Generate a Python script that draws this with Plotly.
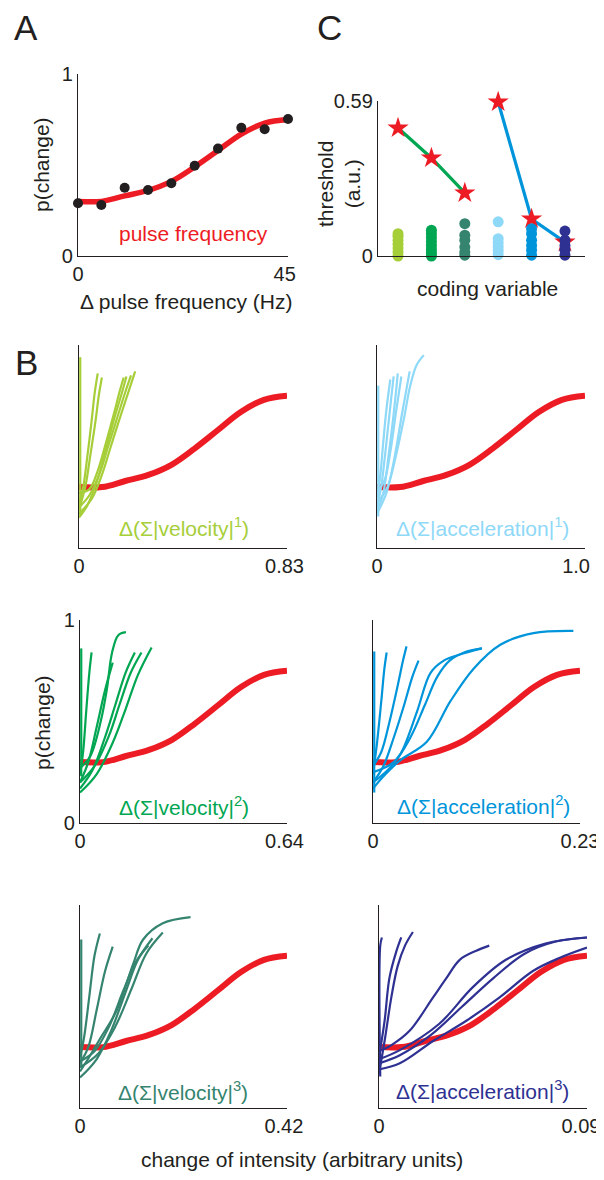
import plotly.graph_objects as go

# The page body has an 8px margin, so the figure is drawn 8px in from the window edge.
PAGE_OFF = 8
WIN_W, WIN_H = 604, 1180
W, H = WIN_W - PAGE_OFF, WIN_H - 2 * PAGE_OFF
FONT = "Liberation Sans, Arial, sans-serif"
INK = "#231f20"
RED = "#ed1c24"

# ---------------- Panel A data ----------------
pulse_hz = [0, 5, 10, 15, 20, 25, 30, 35, 40, 45]
p_observed = [0.29, 0.28, 0.375, 0.363, 0.40, 0.496, 0.59, 0.705, 0.696, 0.753]
p_fit = [0.30, 0.30, 0.33, 0.36, 0.41, 0.49, 0.58, 0.67, 0.73, 0.75]

# ---------------- Panel C data ----------------
coding_vars = [1, 2, 3, 4, 5, 6]
coding_colors = ["#a6ce39", "#00a651", "#35846f", "#8ed8f8", "#0095da", "#2e3192"]
velocity_cats = [1, 2, 3]
velocity_thresholds = [0.487, 0.373, 0.240]
accel_cats = [4, 5, 6]
accel_thresholds = [0.586, 0.141, 0.053]
dots_vel1 = [0.0, 0.015, 0.03, 0.045, 0.06, 0.075, 0.085]
dots_vel2 = [0.0, 0.012, 0.025, 0.04, 0.055, 0.07, 0.085, 0.098]
dots_vel3 = [0.003, 0.015, 0.034, 0.06, 0.079, 0.123]
dots_acc1 = [0.005, 0.02, 0.035, 0.05, 0.066, 0.13]
dots_acc2 = [0.003, 0.022, 0.04, 0.06, 0.085, 0.104]
dots_acc3 = [0.003, 0.022, 0.04, 0.06, 0.095]
individual_thresholds = [dots_vel1, dots_vel2, dots_vel3, dots_acc1, dots_acc2, dots_acc3]

# ---------------- Panel B data (x as fraction of axis max) ----------------
b_xmax = [0.83, 1.0, 0.64, 0.23, 0.42, 0.09]
b_xmax_text = ["0.83", "1.0", "0.64", "0.23", "0.42", "0.09"]
b_labels = ["Δ(Σ|velocity|<sup>1</sup>)", "Δ(Σ|acceleration|<sup>1</sup>)",
            "Δ(Σ|velocity|<sup>2</sup>)", "Δ(Σ|acceleration|<sup>2</sup>)",
            "Δ(Σ|velocity|<sup>3</sup>)", "Δ(Σ|acceleration|<sup>3</sup>)"]
b_colors = ["#a6ce39", "#8ed8f8", "#00a651", "#0095da", "#35846f", "#2e3192"]

vel1_x = [[0.006, 0.006],
          [0, 0.02, 0.04, 0.06, 0.075, 0.09],
          [0, 0.03, 0.055, 0.08, 0.095, 0.11],
          [0, 0.05, 0.09, 0.13, 0.17, 0.195, 0.215],
          [0, 0.04, 0.09, 0.13, 0.17, 0.205, 0.228],
          [0, 0.05, 0.10, 0.14, 0.18, 0.22, 0.25],
          [0, 0.06, 0.11, 0.15, 0.19, 0.235, 0.27]]
vel1_p = [[0.16, 0.94],
          [0.22, 0.30, 0.45, 0.62, 0.76, 0.86],
          [0.19, 0.30, 0.46, 0.63, 0.75, 0.84],
          [0.27, 0.29, 0.38, 0.52, 0.67, 0.77, 0.84],
          [0.15, 0.21, 0.34, 0.49, 0.64, 0.76, 0.845],
          [0.20, 0.26, 0.37, 0.50, 0.63, 0.76, 0.85],
          [0.17, 0.24, 0.36, 0.49, 0.62, 0.76, 0.87]]

acc1_x = [[0.006, 0.006],
          [0, 0.015, 0.03, 0.045, 0.064],
          [0, 0.02, 0.04, 0.06, 0.08],
          [0, 0.03, 0.055, 0.08, 0.10],
          [0, 0.035, 0.065, 0.09, 0.117],
          [0, 0.045, 0.085, 0.12, 0.157],
          [0, 0.05, 0.09, 0.13, 0.16, 0.19, 0.225]]
acc1_p = [[0.155, 0.80],
          [0.25, 0.35, 0.52, 0.68, 0.83],
          [0.20, 0.30, 0.47, 0.66, 0.845],
          [0.18, 0.27, 0.45, 0.66, 0.86],
          [0.28, 0.33, 0.48, 0.66, 0.845],
          [0.17, 0.27, 0.45, 0.66, 0.87],
          [0.22, 0.30, 0.45, 0.64, 0.80, 0.90, 0.95]]

vel2_x = [[0.006, 0.006],
          [0, 0.015, 0.03, 0.045, 0.056],
          [0, 0.04, 0.08, 0.12, 0.158],
          [0, 0.05, 0.10, 0.13, 0.155, 0.185, 0.222],
          [0, 0.06, 0.12, 0.17, 0.22, 0.265],
          [0, 0.07, 0.14, 0.19, 0.245, 0.297],
          [0, 0.08, 0.16, 0.22, 0.28, 0.346]]
vel2_p = [[0.23, 0.86],
          [0.24, 0.35, 0.55, 0.74, 0.84],
          [0.20, 0.30, 0.47, 0.65, 0.79],
          [0.27, 0.33, 0.50, 0.66, 0.84, 0.925, 0.94],
          [0.17, 0.26, 0.42, 0.58, 0.74, 0.84],
          [0.20, 0.28, 0.43, 0.58, 0.74, 0.84],
          [0.15, 0.24, 0.40, 0.56, 0.73, 0.865]]

acc2_x = [[0.006, 0.006],
          [0, 0.02, 0.04, 0.055, 0.066],
          [0, 0.04, 0.08, 0.12, 0.145, 0.162],
          [0, 0.05, 0.10, 0.15, 0.19, 0.22],
          [0, 0.07, 0.133, 0.213, 0.278, 0.342, 0.42, 0.526],
          [0, 0.10, 0.18, 0.25, 0.31, 0.37, 0.44, 0.526],
          [0, 0.06, 0.133, 0.26, 0.374, 0.486, 0.615, 0.775, 0.968]]
acc2_p = [[0.15, 0.845],
          [0.24, 0.40, 0.60, 0.76, 0.84],
          [0.28, 0.35, 0.50, 0.68, 0.80, 0.87],
          [0.20, 0.28, 0.42, 0.58, 0.72, 0.80],
          [0.20, 0.26, 0.34, 0.55, 0.74, 0.80, 0.83, 0.86],
          [0.25, 0.30, 0.42, 0.58, 0.72, 0.80, 0.84, 0.86],
          [0.17, 0.24, 0.31, 0.40, 0.60, 0.76, 0.878, 0.935, 0.946]]

vel3_x = [[0.006, 0.006],
          [0, 0.02, 0.045, 0.07, 0.096],
          [0, 0.04, 0.08, 0.12, 0.158],
          [0, 0.05, 0.096, 0.177, 0.257, 0.305, 0.40, 0.534],
          [0, 0.08, 0.15, 0.22, 0.28, 0.35],
          [0, 0.09, 0.17, 0.25, 0.32, 0.40],
          [0, 0.07, 0.14, 0.21, 0.27, 0.33]]
vel3_p = [[0.20, 0.83],
          [0.25, 0.35, 0.55, 0.75, 0.86],
          [0.22, 0.30, 0.48, 0.67, 0.795],
          [0.18, 0.26, 0.34, 0.48, 0.71, 0.83, 0.91, 0.94],
          [0.15, 0.24, 0.38, 0.57, 0.73, 0.836],
          [0.20, 0.27, 0.40, 0.59, 0.76, 0.864],
          [0.23, 0.28, 0.40, 0.58, 0.72, 0.80]]

acc3_x = [[0.006, 0.006, 0.014],
          [0, 0.027, 0.05, 0.083, 0.107],
          [0, 0.03, 0.06, 0.09, 0.125, 0.163],
          [0, 0.06, 0.147, 0.26, 0.324, 0.388, 0.468, 0.53],
          [0, 0.10, 0.29, 0.45, 0.61, 0.80, 1.0],
          [0, 0.10, 0.26, 0.42, 0.58, 0.74, 0.87, 1.0],
          [0, 0.10, 0.25, 0.40, 0.55, 0.70, 0.85, 1.0]]
acc3_p = [[0.155, 0.80, 0.84],
          [0.25, 0.43, 0.64, 0.77, 0.84],
          [0.17, 0.35, 0.55, 0.70, 0.80, 0.867],
          [0.28, 0.31, 0.38, 0.545, 0.64, 0.73, 0.775, 0.80],
          [0.24, 0.285, 0.415, 0.594, 0.73, 0.81, 0.84],
          [0.19, 0.22, 0.33, 0.43, 0.545, 0.675, 0.74, 0.79],
          [0.22, 0.26, 0.36, 0.50, 0.64, 0.76, 0.82, 0.84]]

b_curves_x = [vel1_x, acc1_x, vel2_x, acc2_x, vel3_x, acc3_x]
b_curves_p = [vel1_p, acc1_p, vel2_p, acc2_p, vel3_p, acc3_p]

# ---------------- layout helpers (positions given in window pixels) ----------------
fig = go.Figure()
layout = {}
annotations = []

# where the right-hand tick label sits, as a fraction of the axis length
b_end_label_at = [0.988, 0.957, 0.988, 1.0, 0.985, 0.971]


def px_x(x):
    return (x - PAGE_OFF) / W


def px_y(y):
    return 1 - (y - PAGE_OFF) / H


def set_axes(i, l, r, t, b, xr, yr, xt=(), xtt=(), yt=(), ytt=()):
    xa = "xaxis" if i == 1 else f"xaxis{i}"
    ya = "yaxis" if i == 1 else f"yaxis{i}"
    common = dict(showline=True, linecolor=INK, linewidth=1.4, showgrid=False,
                  zeroline=False, ticks="", fixedrange=True, automargin=False,
                  ticklabeloverflow="allow",
                  tickfont=dict(family=FONT, size=20, color=INK))
    layout[xa] = dict(domain=[px_x(l), px_x(r)], range=xr, anchor=("y" if i == 1 else f"y{i}"),
                      tickvals=list(xt), ticktext=list(xtt), **common)
    layout[ya] = dict(domain=[px_y(b), px_y(t)], range=yr, anchor=("x" if i == 1 else f"x{i}"),
                      tickvals=list(yt), ticktext=list(ytt), **common)


def refs(i):
    return ("x", "y") if i == 1 else (f"x{i}", f"y{i}")


def ann(text, x, y, size=21, color=INK, angle=0, xanchor="center", yanchor="middle"):
    annotations.append(dict(text=text, x=px_x(x), y=px_y(y), xref="paper", yref="paper",
                            showarrow=False, textangle=angle, xanchor=xanchor, yanchor=yanchor,
                            font=dict(family=FONT, size=size, color=color)))


# ---------------- Panel A ----------------
set_axes(1, 78, 288, 74, 256, [0, 45], [0, 1], [0, 44.3], ["0", "45"], [0, 1], ["0", "1"])
xr, yr = refs(1)
fig.add_trace(go.Scatter(x=pulse_hz, y=p_fit, mode="lines", xaxis=xr, yaxis=yr,
                         line=dict(color=RED, width=5.5, shape="spline"), showlegend=False))
fig.add_trace(go.Scatter(x=pulse_hz, y=p_observed, mode="markers", xaxis=xr, yaxis=yr, cliponaxis=False,
                         marker=dict(color=INK, size=10), showlegend=False))
ann("A", 26, 27, size=35)
ann("p(change)", 42, 165, angle=-90)
ann("pulse frequency", 193, 234, color=RED)
ann("Δ pulse frequency (Hz)", 186, 301)

# ---------------- Panel C ----------------
set_axes(2, 378, 585, 101, 256, [0.4, 6.6], [0, 0.59], [], [], [0, 0.59], ["0", "0.59"])
xr, yr = refs(2)
fig.add_trace(go.Scatter(x=velocity_cats, y=velocity_thresholds, mode="lines", xaxis=xr, yaxis=yr,
                         line=dict(color="#00a651", width=3.2), showlegend=False))
fig.add_trace(go.Scatter(x=accel_cats, y=accel_thresholds, mode="lines", xaxis=xr, yaxis=yr,
                         line=dict(color="#0095da", width=3.2), showlegend=False))
fig.add_trace(go.Scatter(x=velocity_cats + accel_cats, y=velocity_thresholds + accel_thresholds,
                         mode="markers", xaxis=xr, yaxis=yr, cliponaxis=False,
                         marker=dict(symbol="star", color=RED, size=16, line=dict(width=0)),
                         showlegend=False))
for cat, vals, col in zip(coding_vars, individual_thresholds, coding_colors):
    fig.add_trace(go.Scatter(x=[cat] * len(vals), y=vals, mode="markers", xaxis=xr, yaxis=yr,
                             cliponaxis=False, marker=dict(color=col, size=11, line=dict(width=0)),
                             showlegend=False))
ann("C", 329, 27, size=35)
ann("threshold<br>(a.u.)", 339, 184, angle=-90)
ann("coding variable", 487, 288)

# ---------------- Panel B ----------------
b_boxes = [(79, 287, 345, 548), (377, 585, 345, 548),
           (80, 287, 620, 823), (373, 580, 620, 823),
           (80, 287, 905, 1108), (379, 587, 905, 1108)]
b_label_pos = [(184, 527), (482, 527), (184, 806), (483, 805), (183, 1091), (482, 1090)]
for k in range(6):
    i = k + 3
    l, r, t, b = b_boxes[k]
    xmax = b_xmax[k]
    xt = [0, xmax * b_end_label_at[k]]
    if k == 2:
        set_axes(i, l, r, t, b, [0, xmax], [0, 1], xt, ["0", b_xmax_text[k]], [0, 1], ["0", "1"])
    else:
        set_axes(i, l, r, t, b, [0, xmax], [0, 1], xt, ["0", b_xmax_text[k]])
    xr, yr = refs(i)
    fig.add_trace(go.Scatter(x=[h / 45 * xmax for h in pulse_hz], y=p_fit, mode="lines",
                             xaxis=xr, yaxis=yr, line=dict(color=RED, width=6, shape="spline"),
                             showlegend=False))
    for cx, cp in zip(b_curves_x[k], b_curves_p[k]):
        fig.add_trace(go.Scatter(x=[f * xmax for f in cx], y=cp, mode="lines", xaxis=xr, yaxis=yr,
                                 line=dict(color=b_colors[k], width=2.2, shape="spline"),
                                 showlegend=False))
    ann(b_labels[k], b_label_pos[k][0], b_label_pos[k][1], color=b_colors[k])

ann("B", 26, 362, size=35)
ann("p(change)", 42, 723, angle=-90)
ann("change of intensity (arbitrary units)", 302, 1159)

fig.update_layout(width=W, height=H, margin=dict(l=0, r=0, t=0, b=0, autoexpand=False),
                  paper_bgcolor="white", plot_bgcolor="white",
                  annotations=annotations, **layout)
fig.write_html("out.html",
               post_script="document.documentElement.style.overflow='hidden';"
                           "document.body.style.overflow='hidden';")
